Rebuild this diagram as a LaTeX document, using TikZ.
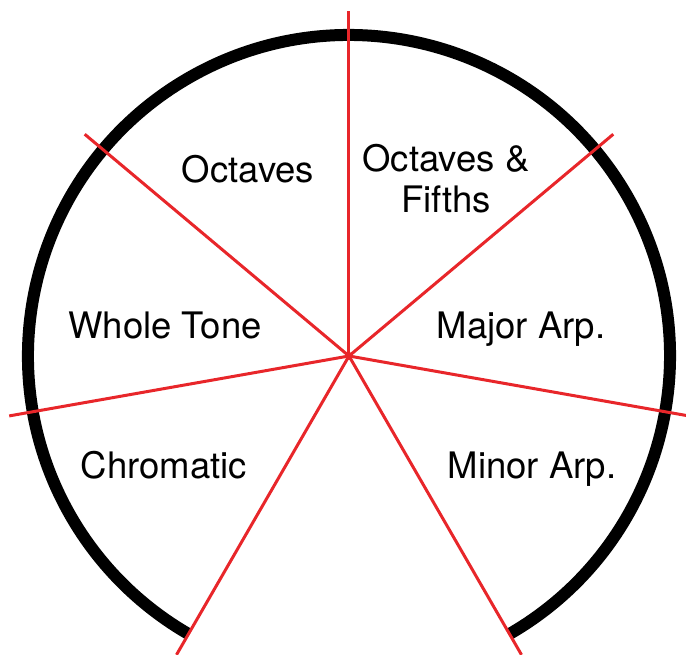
\documentclass[tikz,border=0pt]{standalone}
\usepackage{fontspec}
\setmainfont{TeX Gyre Heros}
\usetikzlibrary{positioning}
\definecolor{spokered}{RGB}{232,38,42}

\begin{document}
\begin{tikzpicture}[
    x=1pt, y=1pt,
    every node/.style={align=center},
    wheeltext/.style={
        anchor=base,
        inner sep=0pt,
        font=\fontsize{36.5}{41}\selectfont
    },
    spoke/.style={
        draw=spokered,
        line width=3pt
    },
    rim/.style={
        draw=black,
        line width=12pt
    }
]

\useasboundingbox (-349,-298) rectangle (337,356);
\clip (-349,-298) rectangle (337,356);

\node[circle, fill=spokered, inner sep=0pt, minimum size=8pt] (hub) at (0,0) {};

\foreach \ang [count=\i] in {90,40,-10,-60,240,190,140}
    \coordinate (tip\i) at (\ang:345);

\draw[rim] (-60:321) arc[start angle=-60, end angle=240, radius=321];

\foreach \i in {1,...,7}
    \draw[spoke] (hub.center) -- (tip\i);

\node[wheeltext] (octaves) at (-101,173) {Octaves};
\node[wheeltext] (fifths) at (97,144) {Octaves \&\\Fifths};
\node[wheeltext] (whole) at (-184,18) {Whole Tone};
\node[wheeltext] (major) at (172,18) {Major Arp.};
\node[wheeltext] (chromatic) at (-185,-122) {Chromatic};
\node[wheeltext] (minor) at (183,-122) {Minor Arp.};

\end{tikzpicture}
\end{document}
